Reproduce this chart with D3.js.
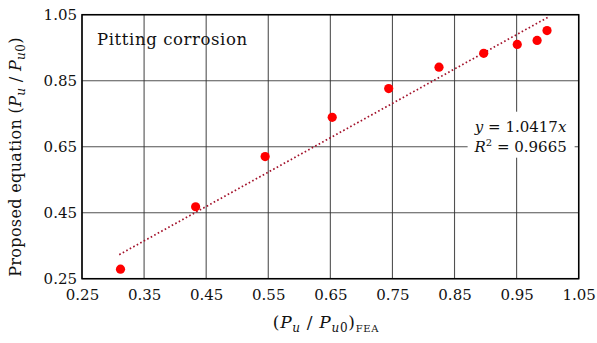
<!DOCTYPE html>
<html><head><meta charset="utf-8">
<script src="https://cdn.jsdelivr.net/npm/d3@7"></script>
<style>
body{margin:0;background:#fff;}
svg{display:block;}
text{font-family:"DejaVu Serif",serif;fill:#111;}
</style></head>
<body>
<script>
const feaValues = [0.312, 0.433, 0.545, 0.653, 0.744, 0.825, 0.897, 0.951, 0.983, 0.999];
const proposedValues = [0.279, 0.468, 0.620, 0.739, 0.826, 0.891, 0.933, 0.960, 0.972, 1.002];
const xTicks = [0.25, 0.35, 0.45, 0.55, 0.65, 0.75, 0.85, 0.95, 1.05];
const yTicks = [0.25, 0.45, 0.65, 0.85, 1.05];
const trendSlope = 1.0417;
const trendRange = [0.31, 1.0];
const rSquared = 0.9665;
const panelTitle = "Pitting corrosion";

const FONT = '"DejaVu Serif",serif';
const W = 597, H = 343;
const m = {left: 82, top: 14.7, right: 597 - 578.7, bottom: 343 - 278.7};
const svg = d3.select("body").append("svg").attr("width", W).attr("height", H);
const x = d3.scaleLinear().domain([0.25, 1.05]).range([m.left, W - m.right]);
const y = d3.scaleLinear().domain([0.25, 1.05]).range([H - m.bottom, m.top]);

// grid
const g = svg.append("g");
g.selectAll(".gx").data(xTicks).join("line")
  .attr("x1", d => x(d)).attr("x2", d => x(d)).attr("y1", y(0.25)).attr("y2", y(1.05))
  .attr("stroke", "#333").attr("stroke-opacity", 0.85).attr("stroke-width", 1.1);
g.selectAll(".gy").data(yTicks).join("line")
  .attr("y1", d => y(d)).attr("y2", d => y(d)).attr("x1", x(0.25)).attr("x2", x(1.05))
  .attr("stroke", "#333").attr("stroke-opacity", 0.85).attr("stroke-width", 1.1);

// axes
const xAxis = svg.append("g").attr("transform", `translate(0,${y(0.25)})`)
  .call(d3.axisBottom(x).tickValues(xTicks).tickFormat(d3.format(".2f")).tickSize(0).tickPadding(11));
const yAxis = svg.append("g").attr("transform", `translate(${x(0.25)},0)`)
  .call(d3.axisLeft(y).tickValues(yTicks).tickFormat(d3.format(".2f")).tickSize(0).tickPadding(5));
[xAxis, yAxis].forEach(a => {
  a.select(".domain").remove();
  a.selectAll("text").attr("font-family", FONT).attr("font-size", 15).attr("fill", "#111");
});

// frame
svg.append("rect").attr("x", x(0.25)).attr("y", y(1.05))
  .attr("width", x(1.05) - x(0.25)).attr("height", y(0.25) - y(1.05))
  .attr("fill", "none").attr("stroke", "#000").attr("stroke-width", 1.5);

// annotation box (white background)
const ax = x(0.95) + 2, ay = y(0.65);
svg.append("rect").attr("x", ax - 51).attr("y", ay - 35).attr("width", 107).attr("height", 46).attr("fill", "#fff");

// trend line
svg.append("line")
  .attr("x1", x(trendRange[0])).attr("y1", y(trendSlope * trendRange[0]))
  .attr("x2", x(trendRange[1])).attr("y2", y(trendSlope * trendRange[1]))
  .attr("stroke", "#a3122b").attr("stroke-width", 1.7).attr("stroke-dasharray", "1.6,2.4");

// points
svg.selectAll(".pt").data(feaValues).join("circle")
  .attr("cx", d => x(d)).attr("cy", (d, i) => y(proposedValues[i])).attr("r", 4.6)
  .attr("fill", "#ff0000");

// annotation text
const t1 = svg.append("text").attr("x", ax + 2).attr("y", ay - 15).attr("text-anchor", "middle").attr("font-size", 15);
t1.append("tspan").attr("font-style", "italic").text("y");
t1.append("tspan").text(" = " + trendSlope.toFixed(4));
t1.append("tspan").attr("font-style", "italic").text("x");
const t2 = svg.append("text").attr("x", ax + 2).attr("y", ay + 5).attr("text-anchor", "middle").attr("font-size", 15);
t2.append("tspan").attr("font-style", "italic").text("R");
t2.append("tspan").attr("font-size", 10).attr("dy", -6).text("2");
t2.append("tspan").attr("dy", 6).text(" = " + rSquared.toFixed(4));

// title
svg.append("text").attr("x", 97).attr("y", 45).attr("font-size", 16.5).attr("letter-spacing", 0.6).text(panelTitle);

// x label
const xl = svg.append("text").attr("x", 326).attr("y", 328).attr("text-anchor", "middle").attr("font-size", 17).attr("letter-spacing", 0.7);
xl.append("tspan").text("(");
xl.append("tspan").attr("font-style", "italic").text("P");
xl.append("tspan").attr("font-style", "italic").attr("font-size", 12).attr("dy", 4).text("u");
xl.append("tspan").attr("dy", -4).text(" / ");
xl.append("tspan").attr("font-style", "italic").text("P");
xl.append("tspan").attr("font-size", 12).attr("dy", 4).attr("font-style", "italic").text("u");
xl.append("tspan").attr("font-size", 12).text("0");
xl.append("tspan").attr("dy", -4).text(")");
xl.append("tspan").attr("font-size", 10).attr("dy", 4).text("FEA");

// y label
const yl = svg.append("text").attr("transform", "translate(21,157) rotate(-90)").attr("text-anchor", "middle").attr("font-size", 16).attr("letter-spacing", 0.35);
yl.append("tspan").text("Proposed equation (");
yl.append("tspan").attr("font-style", "italic").text("P");
yl.append("tspan").attr("font-style", "italic").attr("font-size", 12).attr("dy", 4).text("u");
yl.append("tspan").attr("dy", -4).text(" / ");
yl.append("tspan").attr("font-style", "italic").text("P");
yl.append("tspan").attr("font-size", 12).attr("dy", 4).attr("font-style", "italic").text("u");
yl.append("tspan").attr("font-size", 12).text("0");
yl.append("tspan").attr("dy", -4).text(")");
</script>
</body></html>
